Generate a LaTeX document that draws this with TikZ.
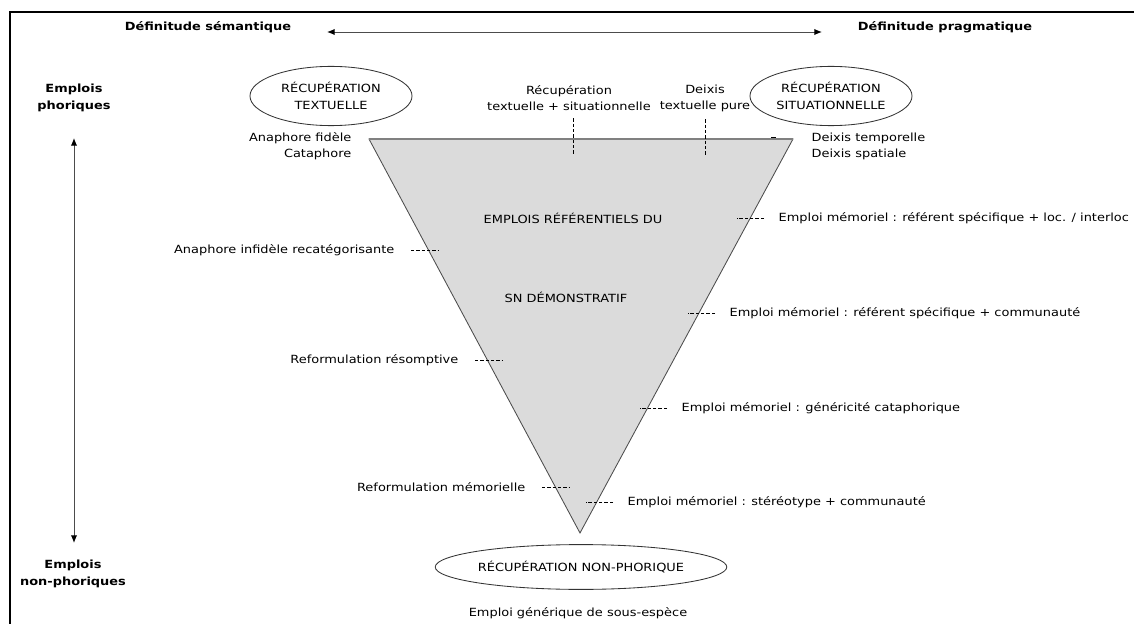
\documentclass[tikz,border=0pt]{standalone}
\usepackage{fontspec}
\setmainfont{DejaVu Sans}[FakeStretch=1.15]
\usetikzlibrary{arrows.meta,shapes.geometric,calc}

\tikzset{
  lab/.style={font=\fontsize{8}{11.5}\selectfont, inner sep=1pt},
  head/.style={font=\bfseries\fontsize{8}{12}\selectfont, align=center},
  recup/.style={ellipse, draw=black!80, line width=0.6pt, align=center, inner sep=0pt, font=\fontsize{8}{12}\selectfont},
  tick/.style={black, line width=0.5pt, dash pattern=on 2.4pt off 1.4pt},
}

\begin{document}
\begin{tikzpicture}[x=0.025cm, y=-0.025cm, >={Latex[length=5.5pt,width=4.5pt,black]}]
    \useasboundingbox (0,0) rectangle (1134,624);

    % frame
    \draw[line width=2.1pt] (1134,12) -- (10,12) -- (10,624);

    % top axis
    \node[head] (sem) at (208,27) {Définitude sémantique};
    \node[head] (prag) at (945,27) {Définitude pragmatique};
    \coordinate (semR) at (327,32);
    \coordinate (pragL) at (822,32);
    \draw[<->, black!70, line width=0.7pt] (semR) -- (pragL);

    % left axis
    \node[head] (phor) at (74,98) {Emplois\\phoriques};
    \node[head] (nonphor) at (73,574) {Emplois\\non-phoriques};
    \coordinate (up) at (74,138);
    \coordinate (down) at (74,543);
    \draw[<->, black!70, line width=0.7pt] (up) -- (down);

    % triangle
    \coordinate (tl) at (369,139);
    \coordinate (tr) at (793,139);
    \coordinate (ap) at (580,533);
    \filldraw[fill=black!14, draw=black!70, line width=0.6pt] (tl) -- (tr) -- (ap) -- cycle;
    \draw[black!50, line width=1.2pt] (tl) -- (tr);
    \node[lab] (ref) at (573,218) {EMPLOIS RÉFÉRENTIELS DU};
    \node[lab] (sn) at (566,297) {SN DÉMONSTRATIF};

    % ellipses
    \node[recup, minimum width=4.05cm, minimum height=1.48cm] (rtext) at (331,96) {RÉCUPÉRATION\\TEXTUELLE};
    \node[recup, minimum width=4.05cm, minimum height=1.48cm] (rsit) at (831,96) {RÉCUPÉRATION\\SITUATIONNELLE};
    \node[recup, minimum width=6.2cm, minimum height=1.12cm] (rnon) at (581,567) {RÉCUPÉRATION NON-PHORIQUE};
    \node[lab] (sousesp) at (578,613) {Emploi générique de sous-espèce};

    % labels along the top edge
    \node[lab, align=center] (rts) at (569,98) {Récupération\\textuelle + situationnelle};
    \node[lab, align=center] (dtp) at (705,98) {Deixis\\textuelle pure};
    \draw[tick] ($(rts.south)+(4,6)$) -- ++(0,36);
    \draw[tick] ($(dtp.south)+(0,6)$) -- ++(0,36);
    \draw[black, line width=0.5pt] (771,137) -- (776,137);
    \node[lab, align=right, anchor=east] (fid) at (353,146) {Anaphore fidèle\\Cataphore};
    \node[lab, align=left, anchor=west] (deix) at (810,146) {Deixis temporelle\\Deixis spatiale};

    % labels on the left side
    \node[lab, anchor=east] (ainf) at (396,250) {Anaphore infidèle recatégorisante};
    \node[lab, anchor=east] (resom) at (460,360) {Reformulation résomptive};
    \node[lab, anchor=east] (refmem) at (527,487) {Reformulation mémorielle};
    \foreach \n in {ainf,resom,refmem}
        \draw[tick] ($(\n.east)+(15,0)$) -- ++(27,0);

    % labels on the right side
    \node[lab, anchor=west] (em1) at (777,218) {Emploi mémoriel : référent spécifique + loc. / interloc};
    \node[lab, anchor=west] (em2) at (728,313) {Emploi mémoriel : référent spécifique + communauté};
    \node[lab, anchor=west] (em3) at (680,408) {Emploi mémoriel : généricité cataphorique};
    \node[lab, anchor=west] (em4) at (626,502) {Emploi mémoriel : stéréotype + communauté};
    \foreach \n in {em1,em2,em3,em4}
        \draw[tick] ($(\n.west)+(-13,0)$) -- ++(-27,0);

\end{tikzpicture}
\end{document}
